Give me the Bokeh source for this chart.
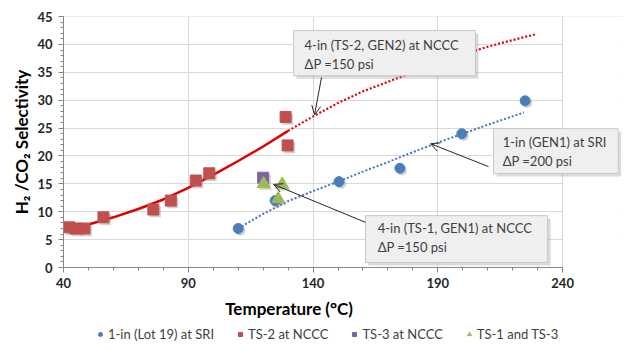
from bokeh.plotting import figure
from bokeh.layouts import column
from bokeh.models import (ColumnDataSource, Range1d, FixedTicker, Legend, LegendItem,
                          BoxAnnotation, Label, Arrow, OpenHead, LinearAxis)
from bokeh.transform import dodge
from bokeh.embed import file_html
from bokeh.resources import INLINE

# ---------------- data ----------------
sri_x = [110, 124.8, 150.4, 174.8, 199.6, 225]
sri_y = [7.0, 12.0, 15.4, 17.8, 24.0, 29.9]

ts2_x = [42.4, 44.8, 48.4, 56, 76, 83, 93, 98.4, 129, 129.8]
ts2_y = [7.2, 7.0, 7.0, 9.0, 10.4, 12.0, 15.6, 16.9, 27.0, 21.9]

ts3_x = [120]
ts3_y = [16.1]

ts13_x = [120.2, 127.6, 126]
ts13_y = [15.0, 14.9, 12.3]

# trend lines
ts2_fit_x = [43, 50, 60, 70, 80, 90, 100, 110, 120, 130]
ts2_fit_y = [7.0, 7.7, 9.0, 10.5, 12.2, 14.3, 16.6, 19.1, 21.7, 24.5]
ts2_ext_x = [130, 140, 150, 160, 170, 180, 190, 200, 210, 220, 229]
ts2_ext_y = [24.5, 27.1, 29.5, 31.6, 33.3, 35.0, 36.6, 38.2, 39.6, 40.8, 41.8]
sri_fit_x = [110, 120, 130, 140, 150, 160, 170, 180, 190, 200, 210, 224.5]
sri_fit_y = [7.0, 9.6, 11.9, 13.7, 15.4, 17.2, 18.9, 20.7, 22.4, 24.0, 25.6, 27.8]

x_ticks = [40, 90, 140, 190, 240]
y_ticks = [0, 5, 10, 15, 20, 25, 30, 35, 40, 45]

x_title = "Temperature (\u00b0C)"
y_title = "H\u2082 /CO\u2082 Selectivity"

legend_labels = ["1-in (Lot 19) at SRI", "TS-2 at NCCC", "TS-3 at NCCC", "TS-1 and TS-3"]

notes = [
    "4-in (TS-2, GEN2) at NCCC\n\u0394P =150 psi",
    "1-in  (GEN1) at SRI\n\u0394P =200 psi",
    "4-in (TS-1, GEN1) at NCCC\n\u0394P =150 psi",
]

FONT = "Lato"
BLUE = "#4a7ebb"
RED = "#c0504d"
PURPLE = "#8064a2"
GREEN = "#9bbb59"

X0, X1 = x_ticks[0], x_ticks[-1]
Y0, Y1 = y_ticks[0], y_ticks[-1]

# the frame is widened to the right (beyond the 240 axis end) so that the
# "1-in (GEN1)" call-out box, which sits outside the plot area, is not clipped
x_range = Range1d(X0, 264)
p = figure(width=627, height=296, output_backend="svg", toolbar_location=None,
           x_range=x_range, y_range=Range1d(Y0, 45.02),
           min_border_left=63, min_border_top=16, min_border_right=5, min_border_bottom=29,
           background_fill_color="white", border_fill_color="white")
p.outline_line_color = None

# axes (tick axes)
for ax in (p.xaxis[0], p.yaxis[0]):
    ax.axis_line_color = "#868686"
    ax.major_tick_line_color = "#868686"
    ax.minor_tick_line_color = "#868686"
    ax.major_tick_in = 0
    ax.major_tick_out = 5
    ax.minor_tick_in = 0
    ax.minor_tick_out = 3
    ax.major_label_text_font = FONT
    ax.major_label_text_font_style = "bold"
    ax.major_label_text_font_size = "13px"
    ax.major_label_text_color = "#262626"

p.xaxis[0].bounds = (X0, X1)
p.yaxis[0].bounds = (Y0, Y1)
p.xaxis[0].ticker = FixedTicker(ticks=x_ticks, minor_ticks=list(range(40, 241, 10)))
p.yaxis[0].ticker = FixedTicker(ticks=y_ticks, minor_ticks=list(range(0, 46, 1)))
p.xaxis[0].major_label_standoff = 5
p.yaxis[0].major_label_standoff = 6

# y title on its own tick-less axis
p.add_layout(LinearAxis(axis_label=y_title, bounds=(3.2, 45), ticker=FixedTicker(ticks=[]),
                        axis_line_color=None, major_tick_line_color=None,
                        minor_tick_line_color=None, major_tick_in=0, major_tick_out=0,
                        minor_tick_in=0, minor_tick_out=0, major_label_standoff=0,
                        axis_label_standoff=3, axis_label_text_font=FONT,
                        axis_label_text_font_style="bold", axis_label_text_font_size="17px",
                        axis_label_text_color="#000000"), "left")

p.xgrid.ticker = FixedTicker(ticks=x_ticks)
p.ygrid.ticker = FixedTicker(ticks=y_ticks)
p.xgrid.grid_line_color = "#d9d9d9"
p.ygrid.grid_line_color = "#d9d9d9"
# white mask right of the 240 gridline (keeps the plot area ending at 240)
p.add_layout(BoxAnnotation(left=X1 + 0.3, fill_color="white", fill_alpha=1.0,
                           line_color=None, level="underlay"))

# trend lines
p.line(sri_fit_x, sri_fit_y, line_color="#4472c4", line_width=2, line_dash="2 2")
p.line(ts2_fit_x, ts2_fit_y, line_color="#e00000", line_width=2.5)
p.line(ts2_ext_x, ts2_ext_y, line_color="#e00000", line_width=2.2, line_dash="2 2")

# marker shadows
def shadow(xs, ys, marker, size):
    src = ColumnDataSource(dict(x=xs, y=ys))
    p.scatter(x=dodge("x", 0.8, range=p.x_range), y=dodge("y", -0.4, range=p.y_range),
              source=src, marker=marker, size=size, fill_color="#777777",
              fill_alpha=0.35, line_color=None)

shadow(sri_x, sri_y, "circle", 10)
shadow(ts2_x, ts2_y, "square", 11)
shadow(ts3_x, ts3_y, "square", 11)
shadow(ts13_x, ts13_y, "triangle", 13)

p.scatter(sri_x, sri_y, marker="circle", size=10, fill_color=BLUE, line_color=BLUE)
p.scatter(ts2_x, ts2_y, marker="square", size=11, fill_color=RED, line_color=RED)
p.scatter(ts3_x, ts3_y, marker="square", size=11, fill_color=PURPLE, line_color=PURPLE)
p.scatter(ts13_x, ts13_y, marker="triangle", size=13, fill_color=GREEN, line_color=GREEN)

# annotation boxes (data units): left, right, bottom, top
boxes = [
    (132.2, 205.1, 34.4, 42.5),
    (212.3, 262.3, 16.85, 24.9),
    (161.0, 234.0, 0.9, 9.3),
]
text_pos = [(136.6, 41.3), (216.0, 23.9), (165.9, 8.5)]
for (l, r, b, t), (tx, ty), txt in zip(boxes, text_pos, notes):
    p.add_layout(BoxAnnotation(left=l + 1.2, right=r + 1.2, bottom=b - 0.55, top=t - 0.55,
                               fill_color="#888888", fill_alpha=0.3, line_color=None,
                               level="overlay"))
    p.add_layout(BoxAnnotation(left=l, right=r, bottom=b, top=t, fill_color="#efefef",
                               fill_alpha=1.0, line_color="#c8c8c8", line_alpha=1.0,
                               line_width=1, level="overlay"))
    p.add_layout(Label(x=tx, y=ty, text=txt, text_font=FONT, text_font_size="13px",
                       text_color="#404040", text_baseline="top", text_line_height=1.15,
                       level="overlay"))

arrows = [
    ((143.4, 34.1), (140.6, 27.4)),
    ((210.3, 18.1), (187.1, 22.2)),
    ((161.0, 8.1), (124.2, 14.9)),
]
for (x0, y0), (x1, y1) in arrows:
    p.add_layout(Arrow(x_start=x0, y_start=y0, x_end=x1, y_end=y1, line_color="#262626",
                       line_width=1, end=OpenHead(size=9, line_color="#262626", line_width=1),
                       level="overlay"))

# strip underneath (same temperature scale): x-axis title and the legend; its sample
# renderers use the same series but lie outside its view, so only the legend shows them
lg = figure(width=627, height=54, output_backend="svg", toolbar_location=None,
            x_axis_type=None, y_axis_type=None, min_border=0,
            x_range=x_range, y_range=Range1d(0, 1))
lg.outline_line_color = None
lg.xgrid.visible = False
lg.ygrid.visible = False
lg.add_layout(Label(x=130.4, y=42, y_units="screen", text=x_title, text_font=FONT,
                    text_font_style="bold", text_font_size="17px", text_color="#000000",
                    text_align="center", text_baseline="middle"))
l_sri = lg.scatter(sri_x, sri_y, marker="circle", size=8, fill_color=BLUE, line_color=BLUE)
l_ts2 = lg.scatter(ts2_x, ts2_y, marker="square", size=9, fill_color=RED, line_color=RED)
l_ts3 = lg.scatter(ts3_x, ts3_y, marker="square", size=9, fill_color=PURPLE, line_color=PURPLE)
l_ts13 = lg.scatter(ts13_x, ts13_y, marker="triangle", size=10, fill_color=GREEN, line_color=GREEN)

legend = Legend(items=[LegendItem(label=legend_labels[0], renderers=[l_sri]),
                       LegendItem(label=legend_labels[1], renderers=[l_ts2]),
                       LegendItem(label=legend_labels[2], renderers=[l_ts3]),
                       LegendItem(label=legend_labels[3], renderers=[l_ts13])],
                orientation="horizontal", location=(32, 8),
                label_text_font=FONT, label_text_font_size="13px", label_text_color="#404040",
                glyph_width=10, glyph_height=12, label_standoff=3, spacing=21,
                padding=2, margin=0, border_line_color=None, background_fill_alpha=0)
lg.add_layout(legend, "center")

open("out.html", "w").write(file_html(column(p, lg), INLINE))
